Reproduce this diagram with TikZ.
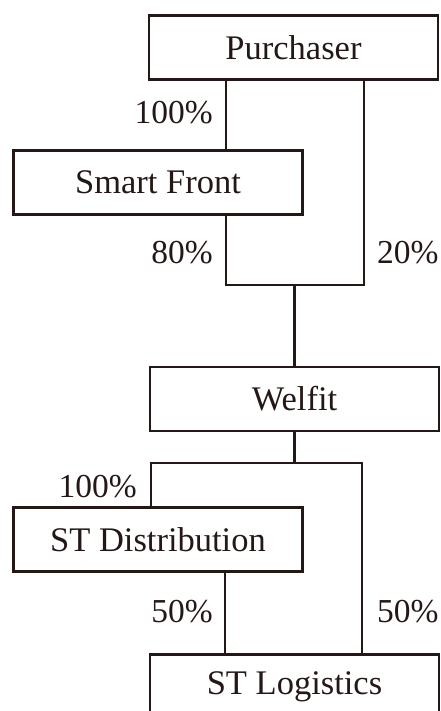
\documentclass[tikz,border=0pt]{standalone}
\usepackage{fontspec}
\setmainfont{Liberation Serif}
\definecolor{ink}{HTML}{231815}
\tikzset{
  box/.style={draw=ink, line width=2.8pt, minimum width=289pt, minimum height=64pt,
    inner sep=0pt, text=ink, font=\fontsize{34.5}{40}\selectfont},
  conn/.style={draw=ink, line width=2.5pt},
  pct/.style={inner sep=0pt, text=ink, font=\fontsize{33.5}{40}\selectfont}
}
\begin{document}
\begin{tikzpicture}[x=1pt,y=-1pt]
\useasboundingbox (0,0) rectangle (441,711);
\clip (0,0) rectangle (441,711);
% boxes
\node[box] (P)  at (293.5,47.5) {Purchaser};
\node[box] (SF) at (158,182.5) {Smart Front};
\node[box] (W)  at (294.5,399) {Welfit};
\node[box] (SD) at (158,539.5) {ST Distribution};
\node[box] (SL) at (294.5,686.5) {ST Logistics};
% junction coordinates
\coordinate (a) at (226,285);
\coordinate (b) at (364,285);
\coordinate (m) at (294.5,285);
\coordinate (c) at (151,463);
\coordinate (d) at (362,463);
\coordinate (e) at (225,600);
% connectors
\draw[conn] (P.south -| a) -- (SF.north -| a);
\draw[conn] (P.south -| b) -- (b) -- (a) -- (SF.south -| a);
\draw[conn] (m) -- (W.north -| m);
\draw[conn] (W.south -| m) -- (c -| m);
\draw[conn] (SD.north -| c) -- (c) -- (d) -- (SL.north -| d);
\draw[conn] (SD.south -| e) -- (SL.north -| e);
% labels
\node[pct, anchor=east] (l1) at (213,113) {100\%};
\node[pct, anchor=east] (l2) at (213,253) {80\%};
\node[pct, anchor=west] (l3) at (377,253) {20\%};
\node[pct, anchor=east] (l4) at (137,487) {100\%};
\node[pct, anchor=east] (l5) at (213,612) {50\%};
\node[pct, anchor=west] (l6) at (377,612) {50\%};
\end{tikzpicture}
\end{document}
